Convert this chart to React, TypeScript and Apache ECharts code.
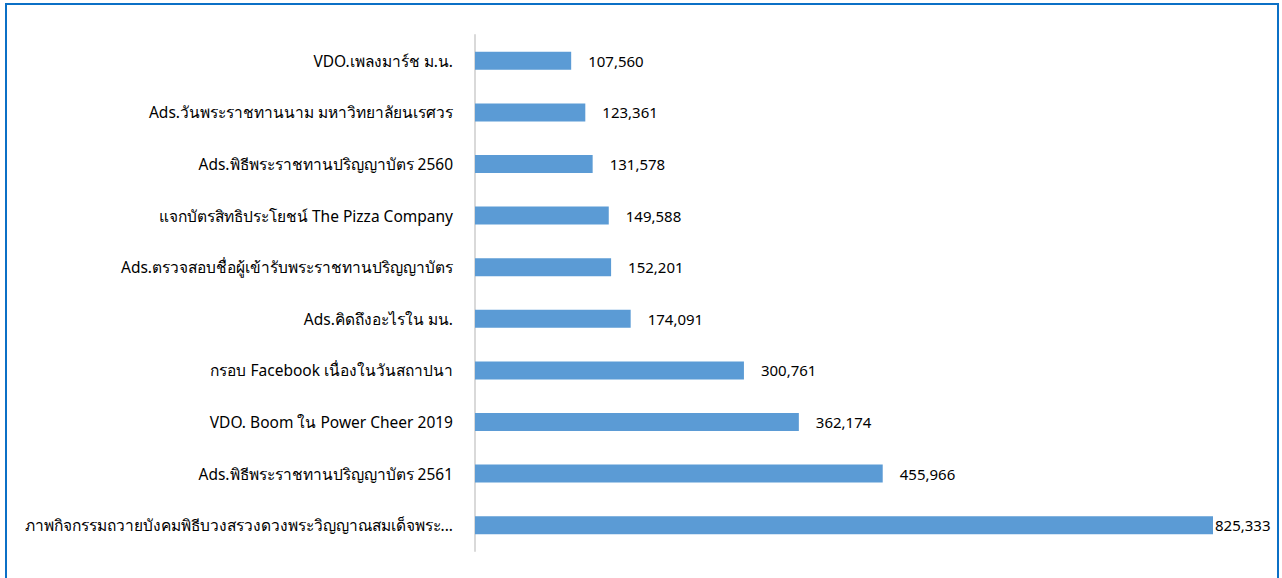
import React, { useEffect, useRef } from "react";
import * as echarts from "echarts";

const categories: string[] = [
  "VDO.เพลงมาร์ช ม.น.",
  "Ads.วันพระราชทานนาม มหาวิทยาลัยนเรศวร",
  "Ads.พิธีพระราชทานปริญญาบัตร 2560",
  "แจกบัตรสิทธิประโยชน์ The Pizza Company",
  "Ads.ตรวจสอบชื่อผู้เข้ารับพระราชทานปริญญาบัตร",
  "Ads.คิดถึงอะไรใน มน.",
  "กรอบ Facebook เนื่องในวันสถาปนา",
  "VDO. Boom ใน Power Cheer 2019",
  "Ads.พิธีพระราชทานปริญญาบัตร 2561",
  "ภาพกิจกรรมถวายบังคมพิธีบวงสรวงดวงพระวิญญาณสมเด็จพระ...",
];

const values: number[] = [
  107560, 123361, 131578, 149588, 152201, 174091, 300761, 362174, 455966, 825333,
];

const FONT = "Tahoma, 'Noto Sans', 'DejaVu Sans', sans-serif";

export default function App() {
  const ref = useRef<HTMLDivElement>(null);

  useEffect(() => {
    if (!ref.current) return;
    const chart = echarts.init(ref.current, null, { renderer: "svg" });
    const maxVal = Math.max(...values);
    chart.setOption({
      animation: false,
      backgroundColor: "#ffffff",
      graphic: [
        {
          type: "rect",
          shape: { x: 6, y: 4, width: 1272, height: 620 },
          style: { fill: "none", stroke: "#0b70c6", lineWidth: 2 },
          silent: true,
        },
      ],
      grid: { left: 475, right: 69, top: 35, bottom: 27, containLabel: false },
      xAxis: {
        type: "value",
        min: 0,
        max: "dataMax",
        show: false,
        splitLine: { show: false },
      },
      yAxis: {
        type: "category",
        data: categories,
        inverse: true,
        axisLine: { show: true, lineStyle: { color: "#d9d9d9", width: 2 } },
        axisTick: { show: false },
        axisLabel: {
          margin: 22,
          color: "#000000",
          fontSize: 15.5,
          fontFamily: FONT,
        },
      },
      series: [
        {
          type: "bar",
          barWidth: 18,
          itemStyle: { color: "#5b9bd5" },
          data: values.map((v) => ({
            value: v,
            label:
              v === maxVal
                ? { show: true, position: "right", distance: 2 }
                : undefined,
          })),
          label: {
            show: true,
            position: "right",
            distance: 17,
            color: "#000000",
            fontSize: 15,
            fontFamily: FONT,
            formatter: (p: any) => Number(p.value).toLocaleString("en-US"),
          },
        },
      ],
    });
    return () => chart.dispose();
  }, []);

  return (
    <div
      ref={ref}
      style={{ position: "fixed", left: 0, top: 0, width: 1282, height: 578 }}
    />
  );
}
